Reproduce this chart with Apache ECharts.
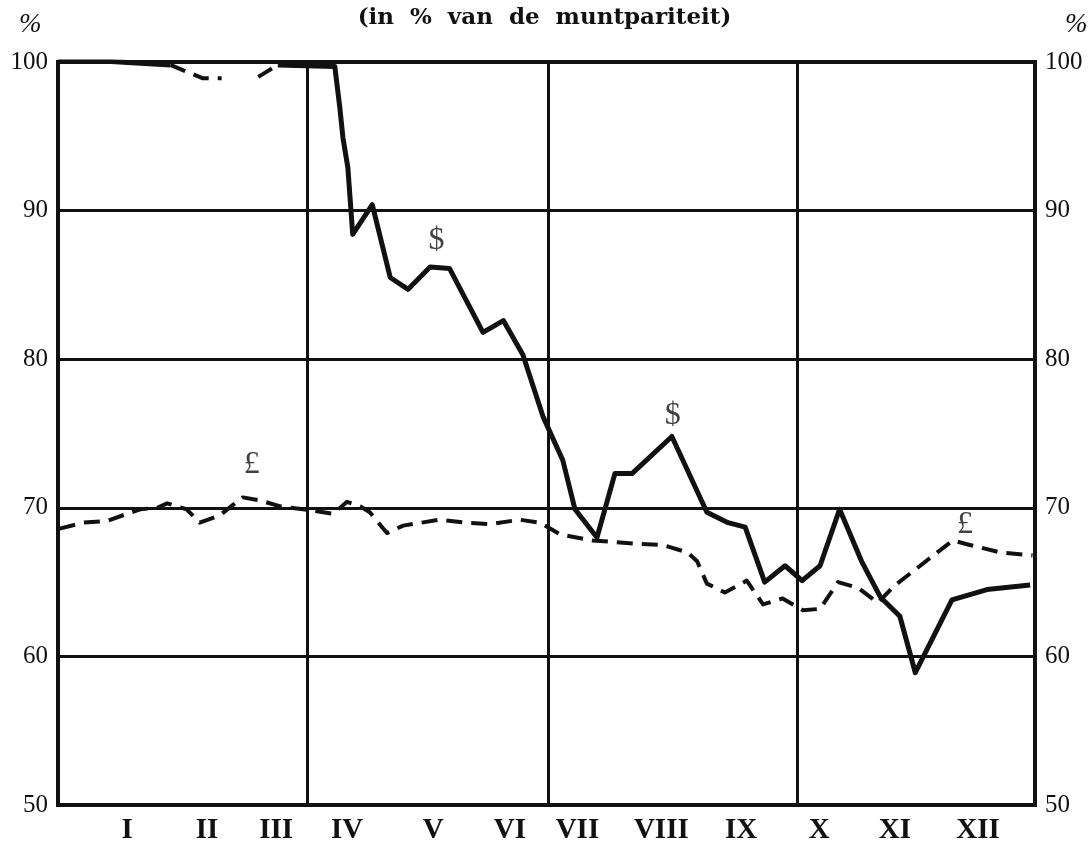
<!DOCTYPE html>
<html>
<head>
<meta charset="utf-8">
<script src="https://cdn.jsdelivr.net/npm/echarts@6/dist/echarts.min.js"></script>
<style>
  html, body { margin: 0; padding: 0; background: #fff; }
  #container { width: 1089px; height: 851px; }
</style>
</head>
<body>
<div id="container"></div>
<script>
// x values are in months from 1 January (0 = start of I, 12 = end of XII)
var monthLabels = ['I', 'II', 'III', 'IV', 'V', 'VI', 'VII', 'VIII', 'IX', 'X', 'XI', 'XII'];
var monthLabelPos = [0.85, 1.83, 2.68, 3.55, 4.61, 5.55, 6.38, 7.41, 8.39, 9.35, 10.28, 11.30];
var quarterLines = [3.06, 6.02, 9.08];

// dollar, solid parts
var dollarStart = [[0, 100.1], [0.6, 100.05], [1.38, 99.8]];
var dollarDip1 = [[1.38, 99.8], [1.78, 98.9], [2.01, 98.9]];
var dollarDip2 = [[2.46, 99.0], [2.70, 99.8]];
var dollar = [
    [2.70, 99.8], [3.40, 99.7], [3.46, 97.0], [3.50, 94.9], [3.56, 92.9], [3.62, 88.4],
    [3.86, 90.4], [4.08, 85.5], [4.30, 84.7], [4.57, 86.2], [4.81, 86.1], [5.22, 81.8],
    [5.47, 82.6], [5.71, 80.3], [5.96, 76.1], [6.20, 73.2], [6.35, 69.9], [6.62, 68.0],
    [6.84, 72.3], [7.05, 72.3], [7.54, 74.8], [7.97, 69.7], [8.23, 69.0], [8.44, 68.7],
    [8.68, 65.0], [8.93, 66.1], [9.14, 65.1], [9.36, 66.1], [9.60, 69.9], [9.87, 66.4],
    [10.10, 64.0], [10.34, 62.7], [10.53, 58.9], [10.98, 63.8], [11.41, 64.5], [11.94, 64.8]
];

// pound sterling (dashed)
var pound = [
    [0.02, 68.6], [0.31, 69.0], [0.60, 69.1], [0.85, 69.6], [1.01, 69.9], [1.22, 70.0],
    [1.34, 70.3], [1.58, 69.9], [1.74, 69.0], [1.99, 69.5], [2.15, 70.2], [2.27, 70.7],
    [2.48, 70.5], [2.73, 70.1], [3.01, 69.9], [3.38, 69.6], [3.55, 70.4], [3.71, 70.1],
    [3.83, 69.7], [4.04, 68.3], [4.24, 68.8], [4.69, 69.2], [5.02, 69.0], [5.31, 68.9],
    [5.67, 69.2], [5.92, 69.0], [6.17, 68.2], [6.57, 67.8], [7.06, 67.6], [7.43, 67.5],
    [7.73, 67.0], [7.85, 66.4], [7.97, 64.9], [8.19, 64.3], [8.46, 65.1], [8.66, 63.5],
    [8.90, 63.9], [9.15, 63.1], [9.36, 63.2], [9.58, 65.0], [9.83, 64.6], [10.07, 63.6],
    [10.26, 64.7], [10.99, 67.8], [11.20, 67.5], [11.57, 67.0], [11.97, 66.8]
];

// currency signs written next to the curves
var annotations = [
    [4.65, 88.0, '$'],
    [7.55, 76.2, '$'],
    [2.38, 72.9, '£'],
    [11.14, 68.9, '£']
];

var dom = document.getElementById('container');
var myChart = echarts.init(dom, null, { renderer: 'canvas' });

var ink = '#111';
var serif = '"Liberation Serif", "DejaVu Serif", serif';

function solidLine(data) {
    return {
        type: 'line', data: data, showSymbol: false, silent: true,
        lineStyle: { color: ink, width: 5, join: 'round' }, z: 5
    };
}
function dashedLine(data) {
    return {
        type: 'line', data: data, showSymbol: false, silent: true,
        lineStyle: { color: ink, width: 4, type: [16, 9], join: 'round' }, z: 5
    };
}

var quarterMarks = quarterLines.map(function (q) { return { xAxis: q }; });

var option = {
    animation: false,
    backgroundColor: '#fff',
    title: [
        {
            text: '(in  %  van  de  muntpariteit)', left: 'center', top: 2,
            textStyle: { fontFamily: '"DejaVu Serif", serif', fontSize: 23, fontWeight: 'bold', color: ink }
        },
        { text: '%', left: 14, top: 6, textStyle: { fontFamily: serif, fontSize: 27, fontWeight: 'normal', fontStyle: 'italic', color: ink } },
        { text: '%', left: 1060, top: 6, textStyle: { fontFamily: serif, fontSize: 27, fontWeight: 'normal', fontStyle: 'italic', color: ink } }
    ],
    grid: {
        left: 58, right: 54, top: 62, bottom: 46,
        show: true, borderColor: ink, borderWidth: 4, backgroundColor: 'transparent'
    },
    xAxis: {
        type: 'value', min: 0, max: 12,
        axisLine: { show: false },
        axisTick: { show: false },
        splitLine: { show: false },
        axisLabel: {
            customValues: monthLabelPos,
            margin: 11,
            fontFamily: serif, fontSize: 29, fontWeight: 'bold', color: ink,
            formatter: function (v) {
                var i = monthLabelPos.indexOf(v);
                return i >= 0 ? monthLabels[i] : '';
            }
        }
    },
    yAxis: [
        {
            type: 'value', min: 50, max: 100, interval: 10, position: 'left',
            axisLine: { show: false }, axisTick: { show: false },
            splitLine: { show: true, lineStyle: { color: ink, width: 3 } },
            axisLabel: { margin: 10, fontFamily: serif, fontSize: 25, color: ink }
        },
        {
            type: 'value', min: 50, max: 100, interval: 10, position: 'right',
            axisLine: { show: false }, axisTick: { show: false },
            splitLine: { show: false },
            axisLabel: { margin: 10, fontFamily: serif, fontSize: 25, color: ink }
        }
    ],
    series: [
        Object.assign(solidLine(dollar), {
            markLine: {
                silent: true, symbol: 'none', label: { show: false },
                lineStyle: { color: ink, width: 3, type: 'solid' },
                data: quarterMarks
            }
        }),
        solidLine(dollarStart),
        dashedLine(dollarDip1),
        dashedLine(dollarDip2),
        dashedLine(pound),
        {
            type: 'scatter', silent: true, symbolSize: 0,
            data: annotations.map(function (a) { return [a[0], a[1], a[2]]; }),
            label: {
                show: true, position: 'inside',
                formatter: function (p) { return p.data[2]; },
                fontFamily: serif, fontSize: 32, color: ink
            },
            z: 6
        }
    ]
};

myChart.setOption(option);
window.addEventListener('resize', myChart.resize);
</script>
</body>
</html>
